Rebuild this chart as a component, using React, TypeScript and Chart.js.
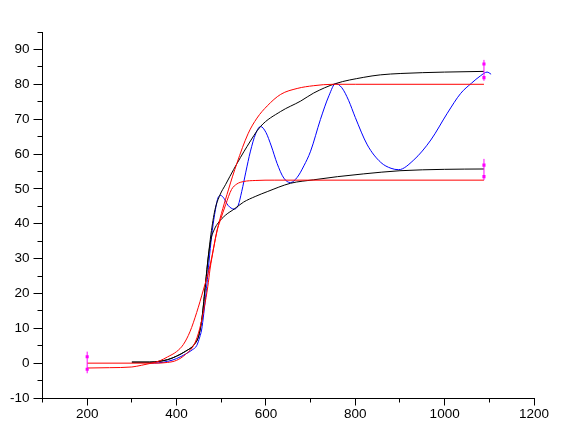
import React, { useEffect, useRef } from "react";
import { Chart, registerables } from "chart.js";

Chart.register(...registerables);

// ---- data ----
const xTickLabels = [200, 400, 600, 800, 1000, 1200];
const yTickLabels = [-10, 0, 10, 20, 30, 40, 50, 60, 70, 80, 90];

const redUpperX = [200, 250, 300, 322, 344, 363, 380, 400, 415, 430, 445, 460, 475, 491, 516, 535, 560, 580, 603, 633, 670, 707, 750, 800, 1088];
const redUpperY = [-1.4, -1.3, -1.1, -0.6, 0, 0.7, 1.8, 3.3, 5.3, 9, 14.5, 21, 28, 38.2, 49.7, 57.3, 65.8, 70.3, 73.8, 77.1, 78.8, 79.6, 80, 80, 80];

const redLowerX = [200, 350, 380, 400, 420, 440, 452, 462, 470, 475, 483, 491, 497, 510, 523, 535, 550, 576, 620, 1088];
const redLowerY = [0, 0, 0.2, 0.8, 2.5, 5.5, 10, 16, 22, 27, 33, 38.2, 40.6, 45.5, 49.8, 51.4, 52.1, 52.4, 52.5, 52.5];

const blackUpperX = [300, 340, 360, 380, 400, 420, 440, 450, 457, 465, 471, 477, 486, 497, 510, 528, 558, 588, 633, 678, 707, 756, 819, 856, 902, 1000, 1088];
const blackUpperY = [0.3, 0.3, 0.5, 1, 2, 3.4, 5.4, 8, 13, 23, 30.5, 37, 44, 48.2, 51.3, 55.6, 62.2, 67.9, 72.2, 75.2, 77.5, 80.2, 82, 82.7, 83.1, 83.5, 83.7];

const blackLowerX = [300, 340, 360, 380, 400, 420, 440, 450, 457, 465, 471, 477, 485, 493, 510, 529, 550, 576, 603, 655, 707, 760, 819, 900, 1000, 1088];
const blackLowerY = [0.3, 0.3, 0.5, 1, 2, 3.4, 5.4, 8, 13, 23, 30.5, 35.5, 38.5, 40.2, 42.5, 44.2, 46.2, 47.8, 49.2, 51.6, 52.6, 53.5, 54.3, 55.2, 55.6, 55.7];

const blueX = [340, 360, 380, 400, 420, 435, 445, 452, 456, 461, 469, 474, 480, 487, 493, 499, 506, 515, 529, 538, 546, 555, 565, 577, 588, 600, 612, 625, 640, 655, 670, 685, 700, 722, 741, 756, 770, 785, 800, 827, 857, 880, 897, 931, 969, 1006, 1036, 1060, 1080, 1095, 1104];
const blueY = [0, 0.1, 0.5, 1.3, 2.6, 3.8, 5, 7.5, 9.5, 14.3, 24, 31, 38, 44, 47.5, 48.1, 47.3, 45.3, 44.2, 45.3, 49.3, 54.8, 60.6, 65.8, 67.9, 66.2, 62.3, 57.3, 53.1, 51.8, 53.3, 56.6, 60.8, 69.9, 76.7, 80.2, 79, 75.4, 70.5, 62.6, 57.6, 55.9, 55.5, 58.3, 64, 71.7, 77.4, 80.3, 82.4, 83.5, 82.9];

// error bars (magenta): x, low, high
const errX = [200, 1088, 1088];
const errLow = [-2.9, 81.0, 52.5];
const errHigh = [3.3, 87.0, 58.6];
// square markers on the bars
const markX = [200, 200, 1088, 1088, 1088, 1088];
const markY = [1.85, -1.77, 85.8, 81.9, 56.8, 53.5];

const pts = (xs: number[], ys: number[]) => xs.map((x, i) => ({ x, y: ys[i] }));

const FONT = { family: "'Liberation Sans', Arial, sans-serif", size: 13.5 };

export default function App() {
  const ref = useRef<HTMLCanvasElement>(null);

  useEffect(() => {
    document.body.style.margin = "0";
    const canvas = ref.current!;

    const tickPlugin = {
      id: "originTicks",
      afterDraw(chart: any) {
        const { ctx } = chart;
        const xs = chart.scales.x;
        const ys = chart.scales.y;
        const axisY = Math.round(ys.bottom) + 0.5;
        const axisX = Math.round(xs.left - 0.5) + 0.5;
        ctx.save();
        ctx.strokeStyle = "#000";
        ctx.lineWidth = 1;
        ctx.beginPath();
        for (let v = 100; v <= 1200; v += 100) {
          const px = Math.round(xs.getPixelForValue(v) - 0.5) + 0.5;
          const len = v % 200 === 0 ? 7 : 4;
          ctx.moveTo(px, axisY);
          ctx.lineTo(px, axisY + len);
        }
        for (let v = -10; v <= 95; v += 5) {
          const py = Math.round(ys.getPixelForValue(v) - 0.5) + 0.5;
          const len = v % 10 === 0 ? 9 : 5;
          ctx.moveTo(axisX, py);
          ctx.lineTo(axisX - len, py);
        }
        ctx.stroke();
        ctx.restore();
      },
    };

    const line = (data: any, color: string) => ({
      data,
      borderColor: color,
      backgroundColor: color,
      borderWidth: 1,
      pointRadius: 0,
      showLine: true,
      fill: false,
      cubicInterpolationMode: "monotone" as const,
    });

    const errSets = errX.map((x, i) => ({
      data: [
        { x, y: errLow[i] },
        { x, y: errHigh[i] },
      ],
      borderColor: "#ff00ff",
      backgroundColor: "#ff00ff",
      borderWidth: 1,
      pointRadius: 0,
      showLine: true,
    }));

    const chart = new Chart(canvas, {
      type: "scatter",
      data: {
        datasets: [
          {
            data: pts(markX, markY),
            borderColor: "#ff00ff",
            backgroundColor: "#ff00ff",
            pointStyle: "rect",
            pointRadius: 2.2,
            borderWidth: 0,
            showLine: false,
          },
          ...errSets,
          line(pts(redUpperX, redUpperY), "#ff0000"),
          line(pts(redLowerX, redLowerY), "#ff0000"),
          line(pts(blackUpperX, blackUpperY), "#000000"),
          line(pts(blackLowerX, blackLowerY), "#000000"),
          line(pts(blueX, blueY), "#0000ff"),
        ] as any,
      },
      options: {
        responsive: false,
        animation: false,
        events: [],
        layout: { padding: { left: 0, right: 44, top: 32, bottom: 0 } },
        plugins: { legend: { display: false }, tooltip: { enabled: false } },
        scales: {
          x: {
            type: "linear",
            min: 100,
            max: 1200,
            grid: { display: false, drawTicks: false },
            border: { display: true, color: "#000", width: 1 },
            afterBuildTicks: (s: any) => {
              s.ticks = xTickLabels.map((v) => ({ value: v }));
            },
            afterFit: (s: any) => {
              s.height = 35;
            },
            ticks: {
              color: "#000",
              padding: 8,
              maxRotation: 0,
              autoSkip: false,
              font: FONT,
              callback: (v: any) => String(v),
            },
          },
          y: {
            type: "linear",
            min: -10,
            max: 95,
            grid: { display: false, drawTicks: false },
            border: { display: true, color: "#000", width: 1 },
            afterBuildTicks: (s: any) => {
              s.ticks = yTickLabels.map((v) => ({ value: v }));
            },
            afterFit: (s: any) => {
              s.width = 42.5;
            },
            ticks: {
              color: "#000",
              padding: 13,
              autoSkip: false,
              font: FONT,
              callback: (v: any) => String(v),
            },
          },
        },
      },
      plugins: [tickPlugin],
    });

    return () => chart.destroy();
  }, []);

  return (
    <div style={{ width: 578, height: 433, background: "#fff" }}>
      <canvas ref={ref} width={578} height={433} style={{ display: "block", width: 578, height: 433 }} />
    </div>
  );
}
